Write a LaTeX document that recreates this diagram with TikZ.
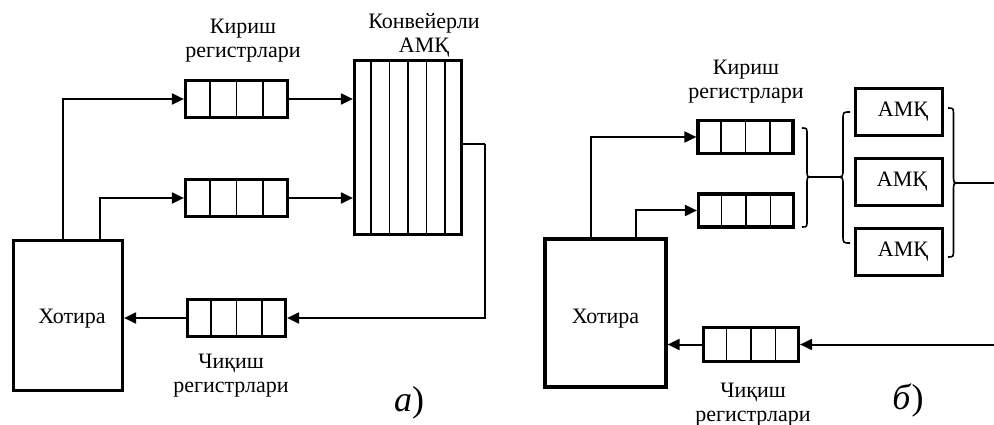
\documentclass[tikz,border=0pt]{standalone}
\usepackage{fontspec}
\setmainfont{Liberation Serif}
\usetikzlibrary{arrows.meta,calc}
\begin{document}
\begin{tikzpicture}[x=1pt,y=-1pt,
  box/.style={draw,line width=3.2pt,inner sep=0pt,anchor=center,font=\fontsize{22}{24}\selectfont},
  lbl/.style={align=center,inner sep=0pt,font=\fontsize{22}{24}\selectfont},
  conn/.style={line width=2pt},
  arr/.style={conn,-{Triangle[length=12pt,width=11pt]}},
  div/.style={line width=1.6pt},
  brc/.style={line width=1.6pt},
  tag/.style={inner sep=0pt,font=\fontsize{36}{40}\selectfont}]
\useasboundingbox (0,0) rectangle (994,425);

% ---------------- panel a ----------------
\node[box,minimum width=109pt,minimum height=150pt] (mem1) at (68,315.5) {\hspace*{8pt}\raisebox{-3pt}[\height][\depth]{Хотира}};
\node[box,minimum width=102pt,minimum height=37pt] (ir1) at (236.5,99) {};
\node[box,minimum width=102pt,minimum height=37pt] (ir2) at (236.5,198) {};
\node[box,minimum width=107pt,minimum height=174pt] (amk) at (408,147.5) {};
\node[box,minimum width=98pt,minimum height=37pt] (or1) at (236.5,318) {};

\foreach \n in {ir1,ir2,or1}{
  \foreach \f in {0.25,0.5,0.75}{
    \draw[div] ($(\n.north west)!\f!(\n.north east)$) -- ($(\n.south west)!\f!(\n.south east)$);
  }
}
\foreach \f in {0.1667,0.3333,0.5,0.6667,0.8333}{
  \draw[div] ($(amk.north west)!\f!(amk.north east)$) -- ($(amk.south west)!\f!(amk.south east)$);
}

\coordinate (m1a) at ($(mem1.north west)!0.455!(mem1.north east)$);
\coordinate (m1b) at ($(mem1.north west)!0.786!(mem1.north east)$);
\draw[arr] (m1a) |- (ir1.west);
\draw[arr] (m1b) |- (ir2.west);
\draw[arr] (ir1.east) -- (ir1.east -| amk.west);
\draw[arr] (ir2.east) -- (ir2.east -| amk.west);
\coordinate (c1) at (485,144);
\draw[conn] (amk.east |- c1) -- (c1);
\draw[arr] (c1) |- (or1.east);
\draw[arr] (or1.west) -- (or1.west -| mem1.east);

\node[lbl] (l1) at (243,41) {Кириш\\регистрлари};
\node[lbl] (l2) at (424,35) {Конвейерли\\АМҚ};
\node[lbl] (l3) at (231,376) {Чиқиш\\регистрлари};
\node[tag] (ta) at (409,403) {\textit{а})};

% ---------------- panel b ----------------
\node[box,minimum width=121pt,minimum height=148pt] (mem2) at (605.5,313) {\raisebox{-6pt}[\height][\depth]{Хотира}};
\node[box,minimum width=95pt,minimum height=33pt] (ir3) at (745.5,137) {};
\node[box,minimum width=95pt,minimum height=33pt] (ir4) at (746,210.5) {};
\node[box,minimum width=95pt,minimum height=34pt] (or2) at (751,344.5) {};
\foreach \n in {ir3,ir4,or2}{
  \foreach \f in {0.25,0.5,0.75}{
    \draw[div] ($(\n.north west)!\f!(\n.north east)$) -- ($(\n.south west)!\f!(\n.south east)$);
  }
}
\node[box,minimum width=87pt,minimum height=47pt] (p1) at (899,112) {\hspace*{8pt}АМҚ};
\node[box,minimum width=87pt,minimum height=47pt] (p2) at (899,182) {\hspace*{6pt}АМҚ};
\node[box,minimum width=87pt,minimum height=47pt] (p3) at (899,252) {\hspace*{8pt}АМҚ};

\coordinate (m2a) at ($(mem2.north west)!0.384!(mem2.north east)$);
\coordinate (m2b) at ($(mem2.north west)!0.744!(mem2.north east)$);
\draw[arr] (m2a) |- (ir3.west);
\draw[arr] (m2b) |- (ir4.west);

% braces
\draw[brc] (802,128) .. controls (807,128) .. (807,135) -- (807,170)
  .. controls (807,177) .. (812,177) .. controls (807,177) .. (807,184)
  -- (807,220) .. controls (807,227) .. (802,227);
\draw[brc] (850,112) .. controls (843,112) .. (843,120) -- (843,169)
  .. controls (843,177) .. (836,177) .. controls (843,177) .. (843,185)
  -- (843,235) .. controls (843,243) .. (850,243);
\draw[brc] (948,108) .. controls (953.5,108) .. (953.5,116) -- (953.5,175)
  .. controls (953.5,183) .. (959,183) .. controls (953.5,183) .. (953.5,191)
  -- (953.5,249) .. controls (953.5,257) .. (948,257);

\coordinate (b1) at (812,177);
\coordinate (b2) at (836,177);
\coordinate (b3) at (959,183);
\coordinate (e1) at (994,183);
\coordinate (e2) at (994,344.5);
\draw[conn] (b1) -- (b2);
\draw[conn] (b3) -- (e1);
\draw[arr] (e2) -- (or2.east);
\draw[arr] (or2.west) -- (or2.west -| mem2.east);

\node[lbl] (l4) at (746,81.5) {Кириш\\регистрлари};
\node[lbl] (l5) at (753,405) {Чиқиш\\регистрлари};
\node[tag] (tb) at (908,400) {\textit{б})};
\end{tikzpicture}
\end{document}
